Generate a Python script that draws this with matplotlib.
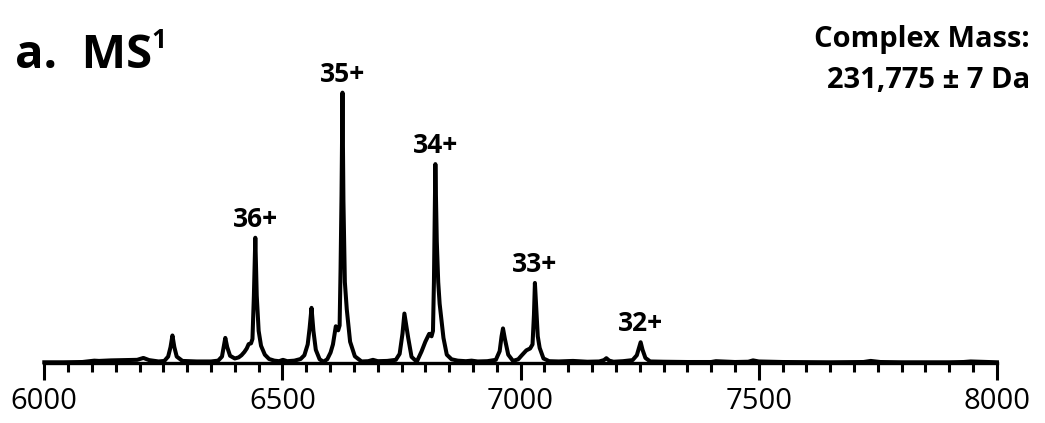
#!/usr/bin/env python3
import matplotlib
matplotlib.use("Agg")
import matplotlib.pyplot as plt
from matplotlib.ticker import MultipleLocator

FIGSIZE = (10.45, 4.23)
plt.rcParams['font.family'] = ['Open Sans', 'DejaVu Sans']

# m/z and relative intensity (35+ = 100)
mz = [6000, 6040, 6080, 6095, 6105, 6115, 6140, 6170, 6195, 6208, 6220, 6240,
      6252, 6260, 6265, 6269, 6273, 6278, 6290, 6320, 6350, 6365, 6373, 6377,
      6380, 6384, 6390, 6400, 6408, 6414, 6420, 6425, 6429, 6434, 6437, 6440,
      6443, 6446, 6450, 6455, 6463, 6472, 6483, 6493, 6501, 6510, 6525, 6538,
      6546, 6553, 6557, 6561, 6565, 6570, 6578, 6586, 6594, 6601, 6606, 6612,
      6617, 6620, 6622, 6624, 6626, 6628, 6631, 6635, 6642, 6652, 6666, 6680,
      6690, 6700, 6720, 6738, 6746, 6752, 6756, 6760, 6764, 6771, 6782, 6792,
      6800, 6808, 6813, 6816, 6818, 6821, 6824, 6827, 6830, 6838, 6845, 6855,
      6868, 6885, 6897, 6910, 6930, 6948, 6956, 6960, 6963, 6967, 6974, 6984,
      6995, 7002, 7012, 7020, 7025, 7028, 7030, 7033, 7036, 7040, 7048, 7060,
      7080, 7110, 7140, 7165, 7175, 7180, 7186, 7195, 7215, 7235, 7244, 7249,
      7252, 7256, 7262, 7272, 7300, 7350, 7400, 7410, 7450, 7478, 7488, 7500,
      7550, 7650, 7720, 7735, 7755, 7800, 7900, 7930, 7945, 8000]
intensity = [0.4, 0.4, 0.5, 0.8, 1.0, 0.9, 1.1, 1.2, 1.3, 2.0, 1.2, 0.7,
             0.9, 2.5, 6.0, 10.3, 6.0, 2.5, 0.9, 0.7, 0.7, 1.0, 2.5, 6.5,
             9.4, 6.0, 2.8, 1.8, 2.2, 3.0, 4.2, 5.5, 7.1, 7.4, 9.0, 25.0,
             46.4, 25.0, 12.0, 6.5, 3.2, 1.6, 1.0, 0.8, 1.3, 0.8, 1.0, 1.6,
             3.0, 7.0, 13.0, 20.5, 12.0, 5.0, 1.5, 0.6, 1.5, 4.0, 7.0, 13.7,
             12.2, 14.0, 35.0, 62.0, 100.0, 60.0, 30.0, 20.0, 8.0, 2.6, 0.7, 0.8,
             1.3, 0.8, 0.9, 1.3, 3.5, 11.0, 18.4, 14.0, 9.4, 2.4, 0.6, 4.4,
             8.0, 10.9, 10.0, 12.0, 30.0, 73.6, 45.0, 30.0, 22.0, 9.4, 3.2, 1.5,
             1.0, 0.8, 1.0, 0.7, 0.8, 1.3, 4.5, 10.0, 12.9, 9.0, 3.2, 0.9,
             1.5, 2.9, 4.8, 5.5, 7.0, 18.0, 29.7, 20.0, 10.0, 5.7, 1.8, 0.8,
             0.7, 0.9, 0.6, 0.7, 1.2, 1.9, 1.0, 0.6, 0.8, 1.2, 3.0, 6.0,
             7.8, 5.0, 2.0, 0.7, 0.6, 0.5, 0.5, 0.8, 0.5, 0.6, 1.1, 0.7,
             0.5, 0.4, 0.5, 0.9, 0.5, 0.4, 0.4, 0.5, 0.7, 0.4]

peak_labels = ['36+', '35+', '34+', '33+', '32+']
peak_mz = [6443, 6626, 6821, 7030, 7252]
peak_height = [46.4, 100.0, 73.6, 29.7, 7.8]

fig = plt.figure(figsize=FIGSIZE, dpi=100)
ax = fig.add_axes([0.0424, 0.141, 0.9116, 0.64])

ax.plot(mz, intensity, color='black', linewidth=2.9, solid_joinstyle='round', clip_on=False)

for lbl, x, h in zip(peak_labels, peak_mz, peak_height):
    ax.annotate(lbl, xy=(x, h), xytext=(0, 8), textcoords='offset points',
                ha='center', va='baseline', fontsize=19, fontweight='bold')

ax.set_xlim(6000, 8000)
ax.set_ylim(0, 100)
ax.xaxis.set_major_locator(MultipleLocator(500))
ax.xaxis.set_minor_locator(MultipleLocator(50))
ax.tick_params(axis='x', which='major', length=12, width=2.2, labelsize=21, pad=5)
ax.tick_params(axis='x', which='minor', length=6.5, width=2.2)
ax.set_yticks([])
for side in ('left', 'right', 'top'):
    ax.spines[side].set_visible(False)
ax.spines['bottom'].set_linewidth(2.4)

title = fig.text(15 / 1045, 1 - 68 / 423, 'a.  MS', fontsize=34, fontweight='bold',
                 ha='left', va='baseline')
renderer = fig.canvas.get_renderer()
bb = title.get_window_extent(renderer=renderer)
fig.text((bb.x1 - 1) / 1045, 1 - 48 / 423, '1', fontsize=19, fontweight='bold',
         ha='left', va='baseline')
fig.text(1030 / 1045, 1 - 47 / 423, 'Complex Mass:', fontsize=21, fontweight='bold',
         ha='right', va='baseline')
fig.text(1030 / 1045, 1 - 88 / 423, '231,775 \u00b1 7 Da', fontsize=21, fontweight='bold',
         ha='right', va='baseline')

fig.savefig('out.png', dpi=100)
